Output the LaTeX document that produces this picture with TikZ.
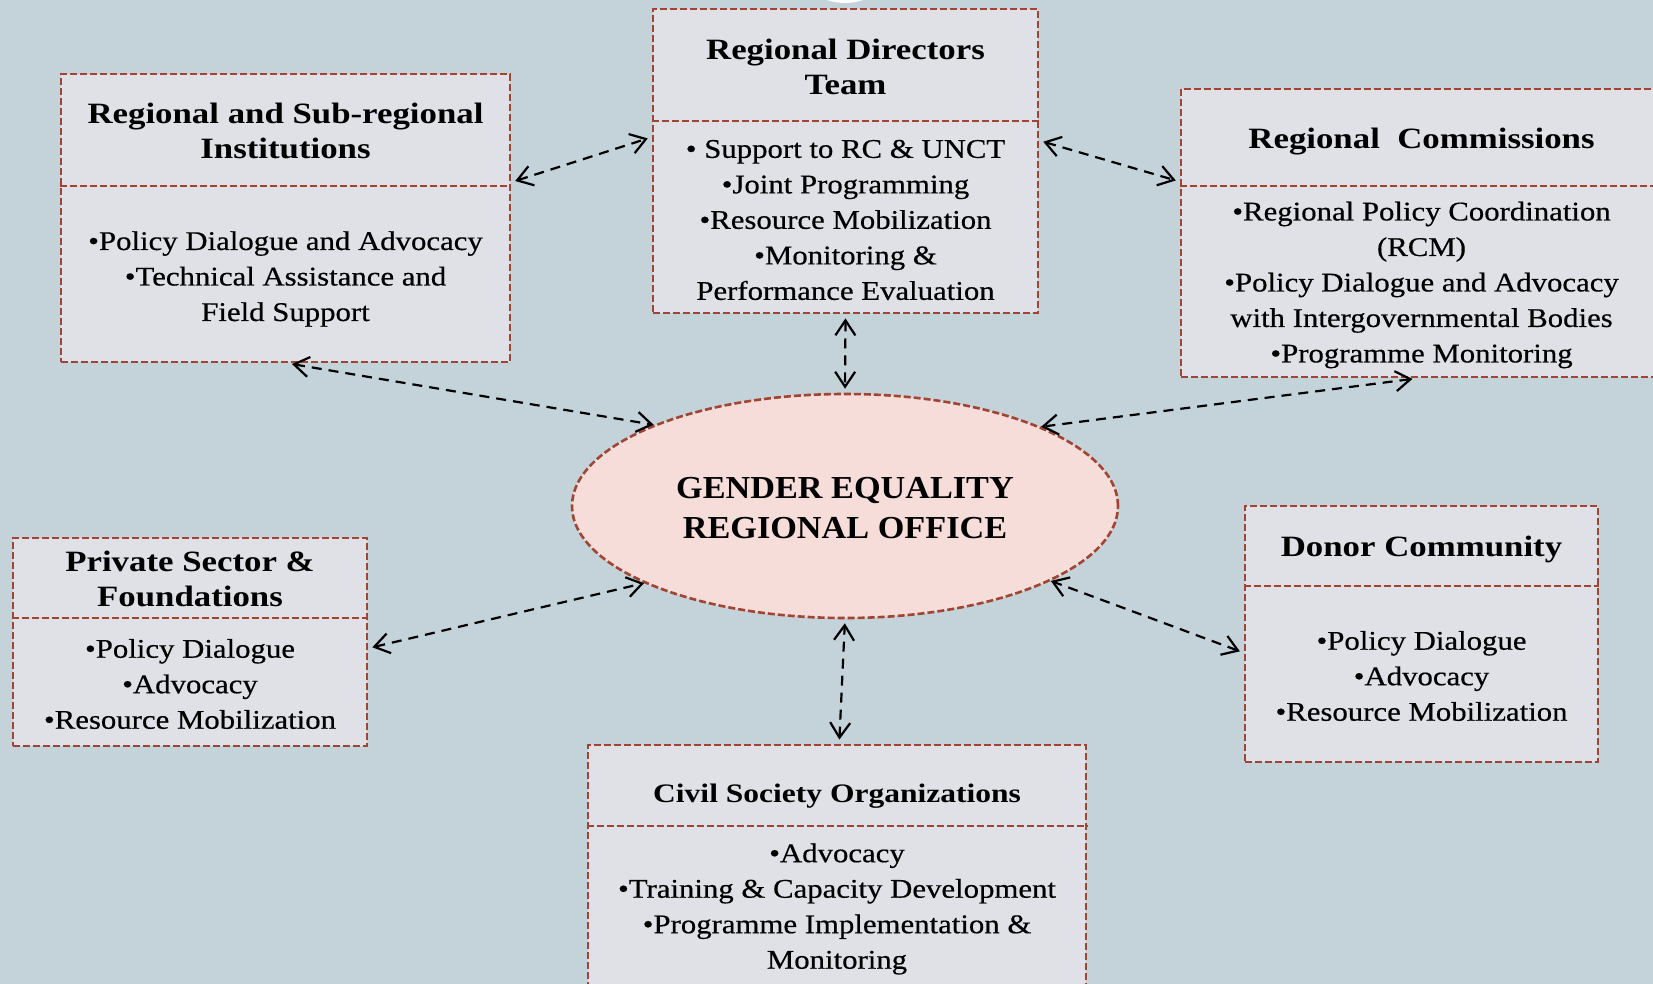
\documentclass[tikz,border=0pt]{standalone}
\usepackage{fontspec}
\setmainfont{Liberation Serif}
\newfontfamily\bodyfont[FakeStretch=1.14,FakeBold=0.5]{Liberation Serif}
\newfontfamily\titlefont[FakeStretch=1.18]{Liberation Serif}
\newfontfamily\geofont[FakeStretch=1.07]{Liberation Serif}
\usetikzlibrary{arrows.meta,shapes.geometric,calc}
\definecolor{bgc}{RGB}{196,211,217}
\definecolor{boxc}{RGB}{223,225,230}
\definecolor{geoc}{RGB}{246,221,217}
\definecolor{brd}{RGB}{162,68,52}
\begin{document}
\begin{tikzpicture}[x=1pt,y=-1pt,
 box/.style={draw=brd, fill=boxc, line width=2.8pt, dash pattern=on 7pt off 3pt, rectangle, inner sep=0pt},
 divider/.style={draw=brd, line width=2.8pt, dash pattern=on 7pt off 3pt},
 ttl/.style={font=\titlefont\bfseries\fontsize{29.5}{35}\selectfont, align=center, inner sep=0pt},
 ttlsmall/.style={font=\titlefont\bfseries\fontsize{26.7}{33}\selectfont, align=center, inner sep=0pt},
 bdy/.style={font=\bodyfont\fontsize{27}{35.5}\selectfont, align=center, inner sep=0pt},
 geostyle/.style={ellipse, draw=brd, fill=geoc, line width=2.6pt, dash pattern=on 7pt off 3pt, inner sep=0pt, minimum width=546pt, minimum height=224pt},
 geotext/.style={font=\geofont\bfseries\fontsize{32}{40}\selectfont, align=center, inner sep=0pt},
 link/.style={draw=black, line width=2.2pt, dash pattern=on 10pt off 7pt, {Straight Barb[length=15pt,width=20pt]}-{Straight Barb[length=15pt,width=20pt]}, shorten <=4pt, shorten >=4pt},
 tolink/.style={link, shorten >=0pt},
]
\useasboundingbox (0,0) rectangle (1653,984);
\clip (0,0) rectangle (1653,984);
\fill[bgc] (0,0) rectangle (1653,984);
\fill[white] (845,-52.5) circle[radius=55.5];

% Regional Directors Team
\node[box, minimum width=385pt, minimum height=304pt] (rdt) at (845.5,161) {};
\draw[divider] (rdt.west |- 0,121) -- (rdt.east |- 0,121);
\node[ttl] (rdtT) at (845.5,67) {Regional Directors\\Team};
\node[bdy] (rdtB) at (845.5,220) {• Support to RC \& UNCT\\•Joint Programming\\•Resource Mobilization\\•Monitoring \&\\Performance Evaluation};

% Regional and Sub-regional Institutions
\node[box, minimum width=449pt, minimum height=288pt] (rsi) at (285.5,218) {};
\draw[divider] (rsi.west |- 0,186) -- (rsi.east |- 0,186);
\node[ttl] (rsiT) at (285.5,131) {Regional and Sub-regional\\Institutions};
\node[bdy] (rsiB) at (285.5,279) {•Policy Dialogue and Advocacy\\•Technical Assistance and\\Field Support};

% Regional Commissions
\node[box, minimum width=481pt, minimum height=288pt] (rc) at (1421.5,233) {};
\draw[divider] (rc.west |- 0,186) -- (rc.east |- 0,186);
\node[ttl] (rcT) at (1421.5,142) {Regional~ Commissions};
\node[bdy] (rcB) at (1421.5,285) {•Regional Policy Coordination\\(RCM)\\•Policy Dialogue and Advocacy\\with Intergovernmental Bodies\\•Programme Monitoring};

% Private Sector & Foundations
\node[box, minimum width=354pt, minimum height=208pt] (ps) at (190,642) {};
\draw[divider] (ps.west |- 0,618) -- (ps.east |- 0,618);
\node[ttl] (psT) at (190,579) {Private Sector \&\\Foundations};
\node[bdy] (psB) at (190,684) {•Policy Dialogue\\•Advocacy\\•Resource Mobilization};

% Donor Community
\node[box, minimum width=353pt, minimum height=256pt] (donor) at (1421.5,634) {};
\draw[divider] (donor.west |- 0,586) -- (donor.east |- 0,586);
\node[ttl] (donorT) at (1421.5,549) {Donor Community};
\node[bdy] (donorB) at (1421.5,676) {•Policy Dialogue\\•Advocacy\\•Resource Mobilization};

% Civil Society Organizations
\node[box, minimum width=498pt, minimum height=247pt] (cso) at (837,868.5) {};
\draw[divider] (cso.west |- 0,826) -- (cso.east |- 0,826);
\node[ttlsmall] (csoT) at (837,796) {Civil Society Organizations};
\node[bdy] (csoB) at (837,909) {•Advocacy\\•Training \& Capacity Development\\•Programme Implementation \&\\Monitoring};

% Central ellipse
\node[geostyle] (geo) at (845,506) {};
\node[geotext] (geoT) at (845,508) {GENDER EQUALITY\\REGIONAL OFFICE};

% Connectors
\draw[link] (rsi.9) -- (rdt.173.5);
\draw[link] (rdt.6.2) -- (rc.168);
\draw[link] (rdt.south) -- (geo.north);
\draw[tolink] (rsi.271.8) -- (geo.157.7);
\draw[tolink] (rc.268.6) -- (geo.22);
\draw[tolink] (ps.-2.3) -- (geo.201.8);
\draw[tolink] (donor.186.8) -- (geo.340);
\draw[link] (cso.89) -- (geo.south);
\end{tikzpicture}
\end{document}
